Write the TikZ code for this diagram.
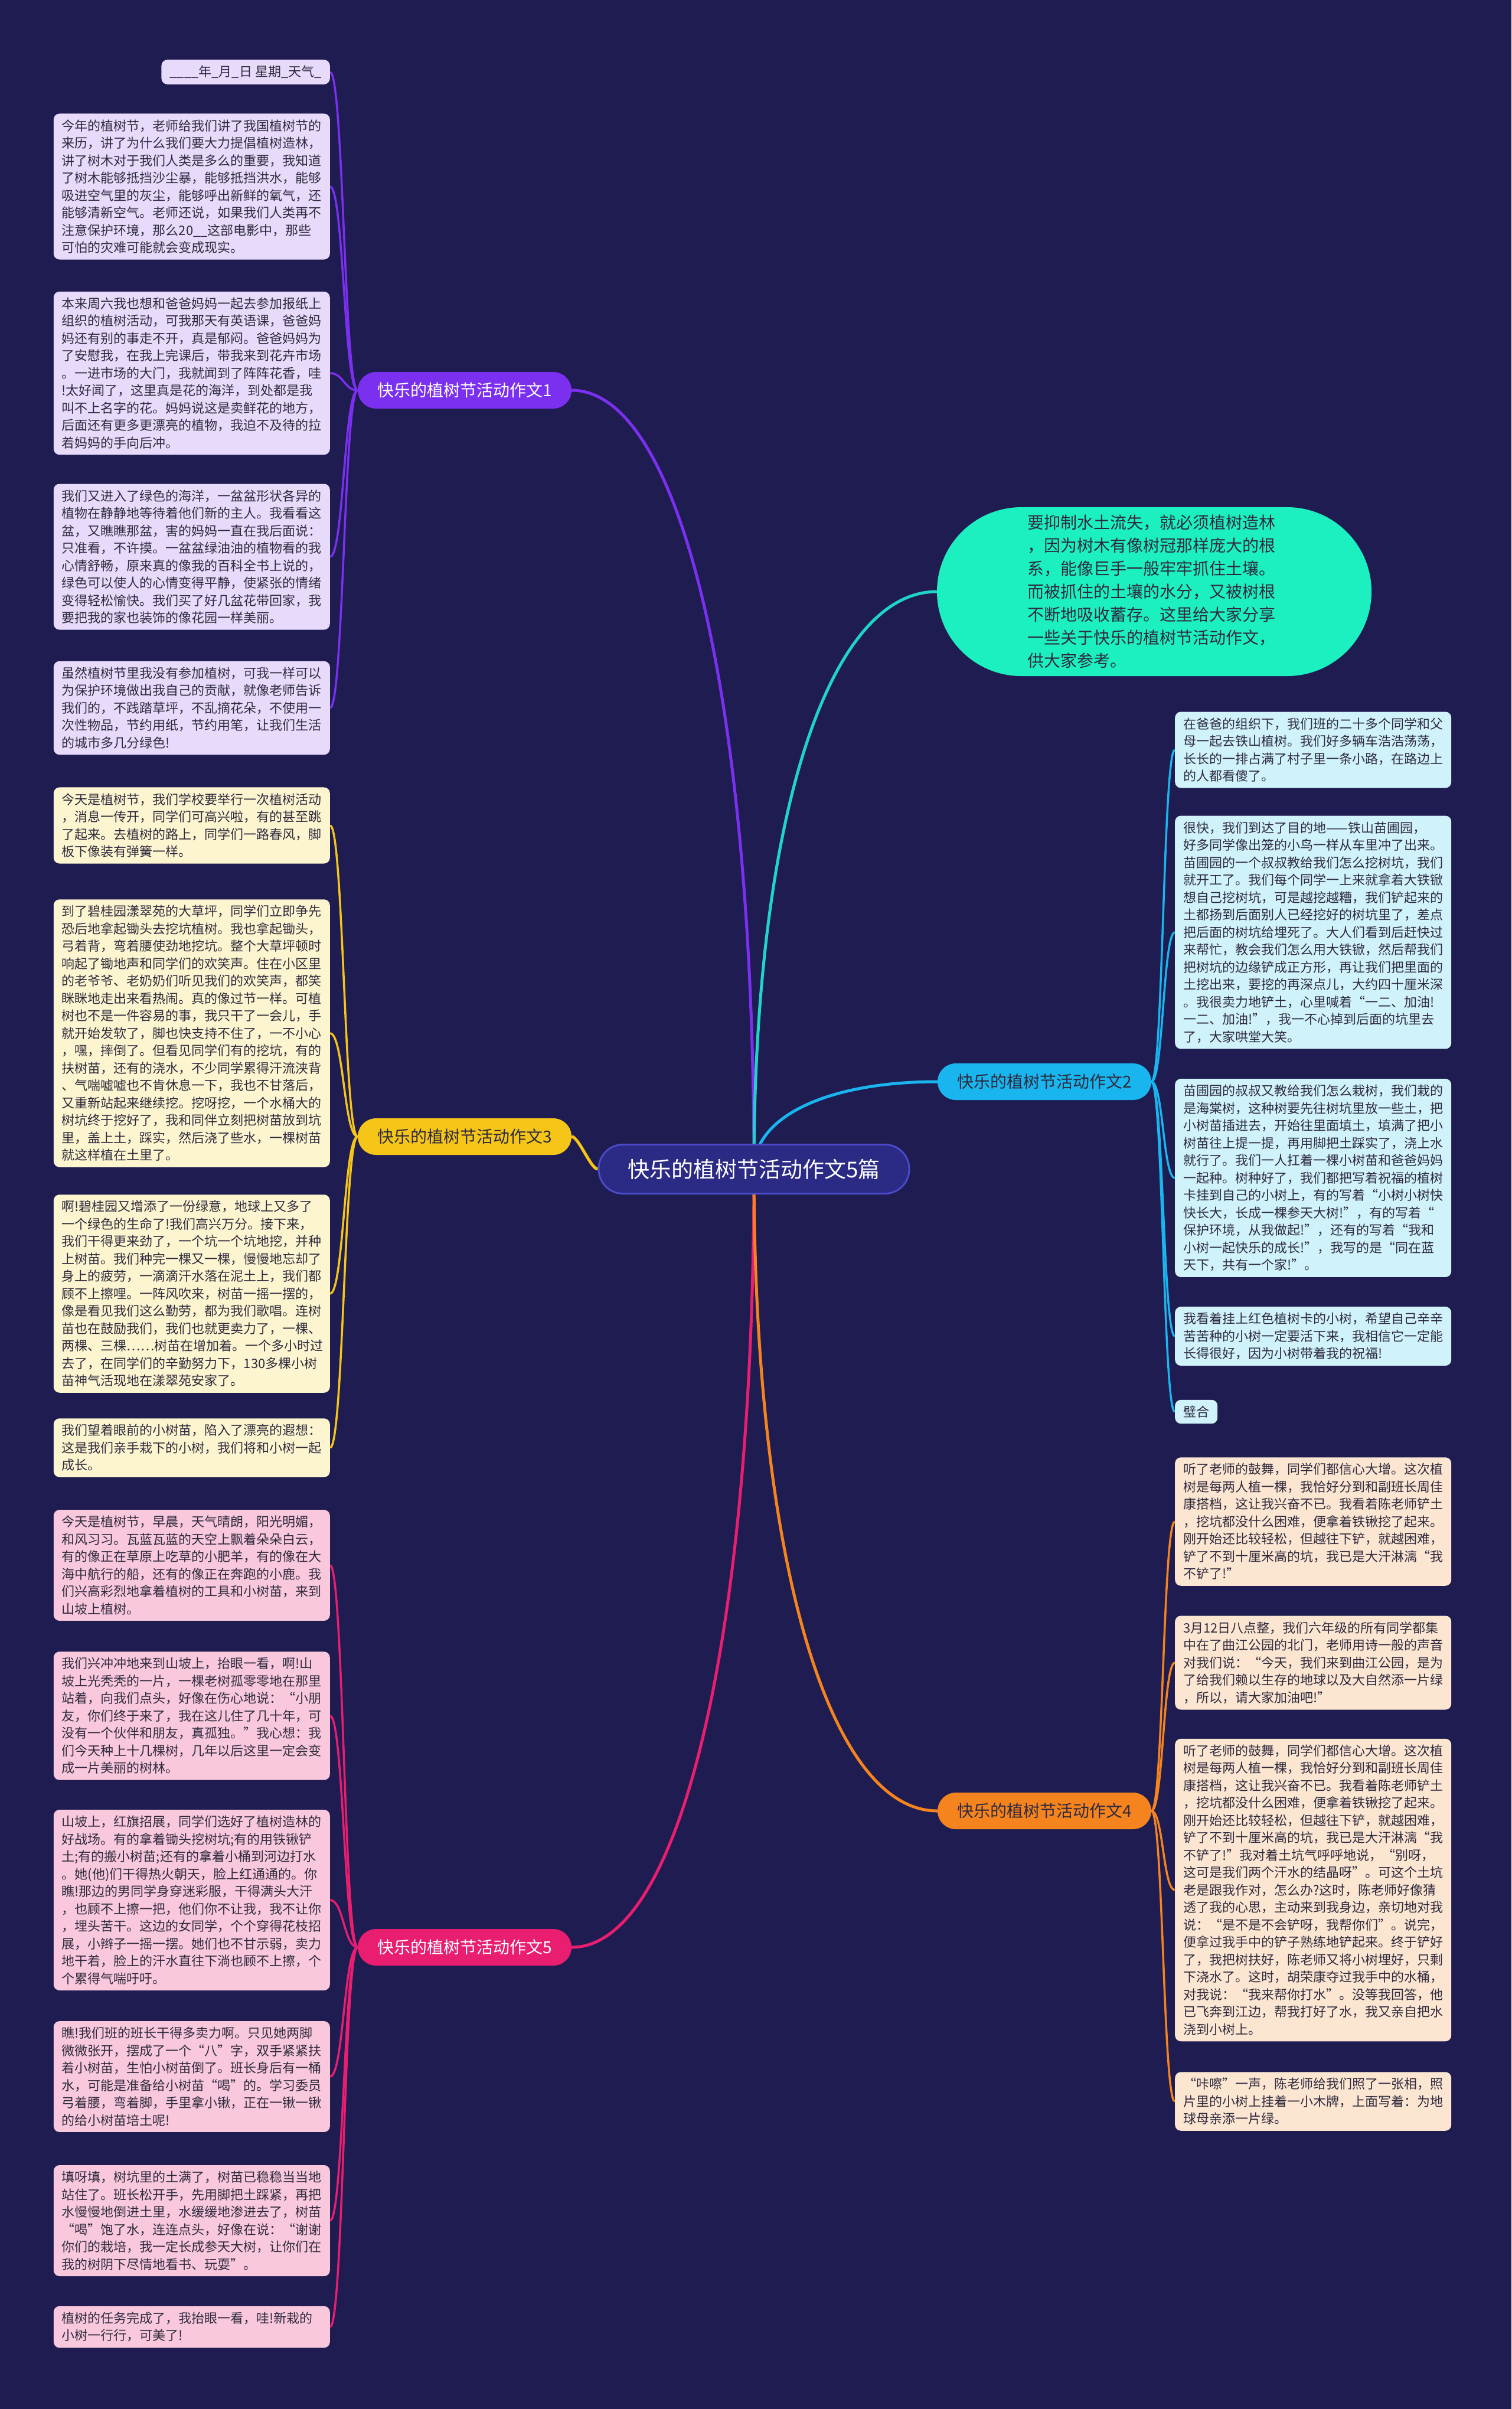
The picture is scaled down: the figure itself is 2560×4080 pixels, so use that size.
\documentclass[tikz,border=0pt]{standalone}
\usepackage{fontspec}
\setmainfont{Noto Sans CJK SC}
\usetikzlibrary{calc,backgrounds}
\definecolor{bgc}{HTML}{1E1C50}
\definecolor{txtd}{HTML}{2E2A3D}
\definecolor{cpur}{HTML}{7B30F0}
\definecolor{cyel}{HTML}{F5C518}
\definecolor{cpink}{HTML}{E91E70}
\definecolor{ccyan}{HTML}{19B5EE}
\definecolor{corg}{HTML}{F5841F}
\definecolor{cmint}{HTML}{1CF0C1}
\definecolor{cteal}{HTML}{20D5C8}
\definecolor{flav}{HTML}{E7DAFB}
\definecolor{fyel}{HTML}{FCF5CF}
\definecolor{fpink}{HTML}{F9C8DC}
\definecolor{fcyan}{HTML}{CFF2FB}
\definecolor{fpeach}{HTML}{FCE6D2}
\definecolor{cfill}{HTML}{2B2A85}
\definecolor{cdraw}{HTML}{4B4BC8}
\tikzset{
  leafbox/.style={rounded corners=10pt, inner xsep=14pt, inner ysep=10pt,
    text width=440pt, align=left, text=txtd,
    font=\fontsize{22pt}{29.5pt}\selectfont},
  leafsmall/.style={rounded corners=10pt, inner xsep=14pt, inner ysep=10pt,
    text=txtd, font=\fontsize{22pt}{29.5pt}\selectfont},
  lfL/.style={anchor=east},
  lfR/.style={anchor=west},
  branchbox/.style={rounded corners=31pt, minimum width=362pt, minimum height=62pt,
    inner sep=0pt, font=\fontsize{28pt}{34pt}\selectfont},
  connmain/.style={line width=5pt},
  connleaf/.style={line width=3.5pt},
}
\newcommand\connL[3]{\draw[connleaf,#3] (#1.west) .. controls ($(#1.west)+(-23,0)$) and ($(#2.east)+(23,0)$) .. (#2.east);}
\newcommand\connR[3]{\draw[connleaf,#3] (#1.east) .. controls ($(#1.east)+(20,0)$) and ($(#2.west)+(-20,0)$) .. (#2.west);}
\newcommand\connC[3]{\draw[connmain,#3] (#1) .. controls ($(#1)!0.6!(#1 |- #2)$) and ($(#2)!0.6!(#1 |- #2)$) .. (#2);}
\begin{document}
\begin{tikzpicture}[x=1pt,y=-1pt]
\useasboundingbox (0,0) rectangle (2560,4080);

% center
\node[rounded corners=41pt, minimum width=526pt, minimum height=83pt, inner sep=0pt,
  fill=cfill, draw=cdraw, line width=3pt, text=white,
  font=\fontsize{37pt}{44pt}\selectfont] (c) at (1277,1980) {快乐的植树节活动作文5篇};

% intro
\node[rounded corners=143pt, minimum width=736pt, minimum height=286pt, inner sep=0pt,
  fill=cmint, text=txtd, text width=430pt, align=left,
  font=\fontsize{28pt}{39pt}\selectfont] (intro) at (1955,1002) {要抑制水土流失，就必须植树造林\\
，因为树木有像树冠那样庞大的根\\
系，能像巨手一般牢牢抓住土壤。\\
而被抓住的土壤的水分，又被树根\\
不断地吸收蓄存。这里给大家分享\\
一些关于快乐的植树节活动作文，\\
供大家参考。};

% branches
\node[branchbox, fill=cpur, text=white] (b1) at (787,661) {快乐的植树节活动作文1};
\node[branchbox, fill=cyel, text=txtd] (b3) at (787,1925) {快乐的植树节活动作文3};
\node[branchbox, fill=cpink, text=white] (b5) at (787,3298) {快乐的植树节活动作文5};
\node[branchbox, fill=ccyan, text=txtd] (b2) at (1769,1832) {快乐的植树节活动作文2};
\node[branchbox, fill=corg, text=txtd] (b4) at (1769,3067) {快乐的植树节活动作文4};

% branch 1 leaves
\node[leafsmall, lfL, fill=flav] (l1a) at (559,122) {\_\_\_\_年\_月\_日 星期\_天气\_};
\node[leafbox, lfL, fill=flav] (l1b) at (559,316) {今年的植树节，老师给我们讲了我国植树节的\\
来历，讲了为什么我们要大力提倡植树造林，\\
讲了树木对于我们人类是多么的重要，我知道\\
了树木能够抵挡沙尘暴，能够抵挡洪水，能够\\
吸进空气里的灰尘，能够呼出新鲜的氧气，还\\
能够清新空气。老师还说，如果我们人类再不\\
注意保护环境，那么20\_\_这部电影中，那些\\
可怕的灾难可能就会变成现实。};
\node[leafbox, lfL, fill=flav] (l1c) at (559,632) {本来周六我也想和爸爸妈妈一起去参加报纸上\\
组织的植树活动，可我那天有英语课，爸爸妈\\
妈还有别的事走不开，真是郁闷。爸爸妈妈为\\
了安慰我，在我上完课后，带我来到花卉市场\\
。一进市场的大门，我就闻到了阵阵花香，哇\\
!太好闻了，这里真是花的海洋，到处都是我\\
叫不上名字的花。妈妈说这是卖鲜花的地方，\\
后面还有更多更漂亮的植物，我迫不及待的拉\\
着妈妈的手向后冲。};
\node[leafbox, lfL, fill=flav] (l1d) at (559,943) {我们又进入了绿色的海洋，一盆盆形状各异的\\
植物在静静地等待着他们新的主人。我看看这\\
盆，又瞧瞧那盆，害的妈妈一直在我后面说：\\
只准看，不许摸。一盆盆绿油油的植物看的我\\
心情舒畅，原来真的像我的百科全书上说的，\\
绿色可以使人的心情变得平静，使紧张的情绪\\
变得轻松愉快。我们买了好几盆花带回家，我\\
要把我的家也装饰的像花园一样美丽。};
\node[leafbox, lfL, fill=flav] (l1e) at (559,1199) {虽然植树节里我没有参加植树，可我一样可以\\
为保护环境做出我自己的贡献，就像老师告诉\\
我们的，不践踏草坪，不乱摘花朵，不使用一\\
次性物品，节约用纸，节约用笔，让我们生活\\
的城市多几分绿色!};

% branch 3 leaves
\node[leafbox, lfL, fill=fyel] (l3a) at (559,1398) {今天是植树节，我们学校要举行一次植树活动\\
，消息一传开，同学们可高兴啦，有的甚至跳\\
了起来。去植树的路上，同学们一路春风，脚\\
板下像装有弹簧一样。};
\node[leafbox, lfL, fill=fyel] (l3b) at (559,1750) {到了碧桂园漾翠苑的大草坪，同学们立即争先\\
恐后地拿起锄头去挖坑植树。我也拿起锄头，\\
弓着背，弯着腰使劲地挖坑。整个大草坪顿时\\
响起了锄地声和同学们的欢笑声。住在小区里\\
的老爷爷、老奶奶们听见我们的欢笑声，都笑\\
眯眯地走出来看热闹。真的像过节一样。可植\\
树也不是一件容易的事，我只干了一会儿，手\\
就开始发软了，脚也快支持不住了，一不小心\\
，嘿，摔倒了。但看见同学们有的挖坑，有的\\
扶树苗，还有的浇水，不少同学累得汗流浃背\\
、气喘嘘嘘也不肯休息一下，我也不甘落后，\\
又重新站起来继续挖。挖呀挖，一个水桶大的\\
树坑终于挖好了，我和同伴立刻把树苗放到坑\\
里，盖上土，踩实，然后浇了些水，一棵树苗\\
就这样植在土里了。};
\node[leafbox, lfL, fill=fyel] (l3c) at (559,2191) {啊!碧桂园又增添了一份绿意，地球上又多了\\
一个绿色的生命了!我们高兴万分。接下来，\\
我们干得更来劲了，一个坑一个坑地挖，并种\\
上树苗。我们种完一棵又一棵，慢慢地忘却了\\
身上的疲劳，一滴滴汗水落在泥土上，我们都\\
顾不上擦哩。一阵风吹来，树苗一摇一摆的，\\
像是看见我们这么勤劳，都为我们歌唱。连树\\
苗也在鼓励我们，我们也就更卖力了，一棵、\\
两棵、三棵……树苗在增加着。一个多小时过\\
去了，在同学们的辛勤努力下，130多棵小树\\
苗神气活现地在漾翠苑安家了。};
\node[leafbox, lfL, fill=fyel] (l3d) at (559,2452) {我们望着眼前的小树苗，陷入了漂亮的遐想：\\
这是我们亲手栽下的小树，我们将和小树一起\\
成长。};

% branch 5 leaves
\node[leafbox, lfL, fill=fpink] (l5a) at (559,2651) {今天是植树节，早晨，天气晴朗，阳光明媚，\\
和风习习。瓦蓝瓦蓝的天空上飘着朵朵白云，\\
有的像正在草原上吃草的小肥羊，有的像在大\\
海中航行的船，还有的像正在奔跑的小鹿。我\\
们兴高彩烈地拿着植树的工具和小树苗，来到\\
山坡上植树。};
\node[leafbox, lfL, fill=fpink] (l5b) at (559,2906) {我们兴冲冲地来到山坡上，抬眼一看，啊!山\\
坡上光秃秃的一片，一棵老树孤零零地在那里\\
站着，向我们点头，好像在伤心地说：“小朋\\
友，你们终于来了，我在这儿住了几十年，可\\
没有一个伙伴和朋友，真孤独。”我心想：我\\
们今天种上十几棵树，几年以后这里一定会变\\
成一片美丽的树林。};
\node[leafbox, lfL, fill=fpink] (l5c) at (559,3218) {山坡上，红旗招展，同学们选好了植树造林的\\
好战场。有的拿着锄头挖树坑;有的用铁锹铲\\
土;有的搬小树苗;还有的拿着小桶到河边打水\\
。她(他)们干得热火朝天，脸上红通通的。你\\
瞧!那边的男同学身穿迷彩服，干得满头大汗\\
，也顾不上擦一把，他们你不让我，我不让你\\
，埋头苦干。这边的女同学，个个穿得花枝招\\
展，小辫子一摇一摆。她们也不甘示弱，卖力\\
地干着，脸上的汗水直往下淌也顾不上擦，个\\
个累得气喘吁吁。};
\node[leafbox, lfL, fill=fpink] (l5d) at (559,3517) {瞧!我们班的班长干得多卖力啊。只见她两脚\\
微微张开，摆成了一个“八”字，双手紧紧扶\\
着小树苗，生怕小树苗倒了。班长身后有一桶\\
水，可能是准备给小树苗“喝”的。学习委员\\
弓着腰，弯着脚，手里拿小锹，正在一锹一锹\\
的给小树苗培土呢!};
\node[leafbox, lfL, fill=fpink] (l5e) at (559,3761) {填呀填，树坑里的土满了，树苗已稳稳当当地\\
站住了。班长松开手，先用脚把土踩紧，再把\\
水慢慢地倒进土里，水缓缓地渗进去了，树苗\\
“喝”饱了水，连连点头，好像在说：“谢谢\\
你们的栽培，我一定长成参天大树，让你们在\\
我的树阴下尽情地看书、玩耍”。};
\node[leafbox, lfL, fill=fpink] (l5f) at (559,3941) {植树的任务完成了，我抬眼一看，哇!新栽的\\
小树一行行，可美了!};

% branch 2 leaves
\node[leafbox, lfR, fill=fcyan] (r2a) at (1990,1270) {在爸爸的组织下，我们班的二十多个同学和父\\
母一起去铁山植树。我们好多辆车浩浩荡荡，\\
长长的一排占满了村子里一条小路，在路边上\\
的人都看傻了。};
\node[leafbox, lfR, fill=fcyan] (r2b) at (1990,1579) {很快，我们到达了目的地——铁山苗圃园，\\
好多同学像出笼的小鸟一样从车里冲了出来。\\
苗圃园的一个叔叔教给我们怎么挖树坑，我们\\
就开工了。我们每个同学一上来就拿着大铁锨\\
想自己挖树坑，可是越挖越糟，我们铲起来的\\
土都扬到后面别人已经挖好的树坑里了，差点\\
把后面的树坑给埋死了。大人们看到后赶快过\\
来帮忙，教会我们怎么用大铁锨，然后帮我们\\
把树坑的边缘铲成正方形，再让我们把里面的\\
土挖出来，要挖的再深点儿，大约四十厘米深\\
。我很卖力地铲土，心里喊着“一二、加油!\\
一二、加油!”，我一不心掉到后面的坑里去\\
了，大家哄堂大笑。};
\node[leafbox, lfR, fill=fcyan] (r2c) at (1990,1995) {苗圃园的叔叔又教给我们怎么栽树，我们栽的\\
是海棠树，这种树要先往树坑里放一些土，把\\
小树苗插进去，开始往里面填土，填满了把小\\
树苗往上提一提，再用脚把土踩实了，浇上水\\
就行了。我们一人扛着一棵小树苗和爸爸妈妈\\
一起种。树种好了，我们都把写着祝福的植树\\
卡挂到自己的小树上，有的写着“小树小树快\\
快长大，长成一棵参天大树!”，有的写着“\\
保护环境，从我做起!”，还有的写着“我和\\
小树一起快乐的成长!”，我写的是“同在蓝\\
天下，共有一个家!”。};
\node[leafbox, lfR, fill=fcyan] (r2d) at (1990,2263) {我看着挂上红色植树卡的小树，希望自己辛辛\\
苦苦种的小树一定要活下来，我相信它一定能\\
长得很好，因为小树带着我的祝福!};
\node[leafsmall, lfR, fill=fcyan] (r2e) at (1990,2391) {璧合};

% branch 4 leaves
\node[leafbox, lfR, fill=fpeach] (r4a) at (1990,2577) {听了老师的鼓舞，同学们都信心大增。这次植\\
树是每两人植一棵，我恰好分到和副班长周佳\\
康搭档，这让我兴奋不已。我看着陈老师铲土\\
，挖坑都没什么困难，便拿着铁锹挖了起来。\\
刚开始还比较轻松，但越往下铲，就越困难，\\
铲了不到十厘米高的坑，我已是大汗淋漓“我\\
不铲了!”};
\node[leafbox, lfR, fill=fpeach] (r4b) at (1990,2816) {3月12日八点整，我们六年级的所有同学都集\\
中在了曲江公园的北门，老师用诗一般的声音\\
对我们说：“今天，我们来到曲江公园，是为\\
了给我们赖以生存的地球以及大自然添一片绿\\
，所以，请大家加油吧!”};
\node[leafbox, lfR, fill=fpeach] (r4c) at (1990,3201) {听了老师的鼓舞，同学们都信心大增。这次植\\
树是每两人植一棵，我恰好分到和副班长周佳\\
康搭档，这让我兴奋不已。我看着陈老师铲土\\
，挖坑都没什么困难，便拿着铁锹挖了起来。\\
刚开始还比较轻松，但越往下铲，就越困难，\\
铲了不到十厘米高的坑，我已是大汗淋漓“我\\
不铲了!”我对着土坑气呼呼地说，“别呀，\\
这可是我们两个汗水的结晶呀”。可这个土坑\\
老是跟我作对，怎么办?这时，陈老师好像猜\\
透了我的心思，主动来到我身边，亲切地对我\\
说：“是不是不会铲呀，我帮你们”。说完，\\
便拿过我手中的铲子熟练地铲起来。终于铲好\\
了，我把树扶好，陈老师又将小树埋好，只剩\\
下浇水了。这时，胡荣康夺过我手中的水桶，\\
对我说：“我来帮你打水”。没等我回答，他\\
已飞奔到江边，帮我打好了水，我又亲自把水\\
浇到小树上。};
\node[leafbox, lfR, fill=fpeach] (r4d) at (1990,3559) {“咔嚓”一声，陈老师给我们照了一张相，照\\
片里的小树上挂着一小木牌，上面写着：为地\\
球母亲添一片绿。};

\begin{pgfonlayer}{background}
\fill[bgc] (0,0) rectangle (2560,4080);
% main connectors
\connC{c.center}{b1.east}{cpur}
\connC{c.center}{b5.east}{cpink}
\connC{c.center}{b2.west}{ccyan}
\connC{c.center}{b4.west}{corg}
\connC{c.center}{intro.west}{cteal}
\draw[connmain,cyel] (c.west) .. controls ($(c.west)+(-12,0)$) and ($(b3.east)+(12,0)$) .. (b3.east);
% leaf connectors
\connL{b1}{l1a}{cpur}
\connL{b1}{l1b}{cpur}
\connL{b1}{l1c}{cpur}
\connL{b1}{l1d}{cpur}
\connL{b1}{l1e}{cpur}
\connL{b3}{l3a}{cyel}
\connL{b3}{l3b}{cyel}
\connL{b3}{l3c}{cyel}
\connL{b3}{l3d}{cyel}
\connL{b5}{l5a}{cpink}
\connL{b5}{l5b}{cpink}
\connL{b5}{l5c}{cpink}
\connL{b5}{l5d}{cpink}
\connL{b5}{l5e}{cpink}
\connL{b5}{l5f}{cpink}
\connR{b2}{r2a}{ccyan}
\connR{b2}{r2b}{ccyan}
\connR{b2}{r2c}{ccyan}
\connR{b2}{r2d}{ccyan}
\connR{b2}{r2e}{ccyan}
\connR{b4}{r4a}{corg}
\connR{b4}{r4b}{corg}
\connR{b4}{r4c}{corg}
\connR{b4}{r4d}{corg}
\end{pgfonlayer}
\end{tikzpicture}
\end{document}
